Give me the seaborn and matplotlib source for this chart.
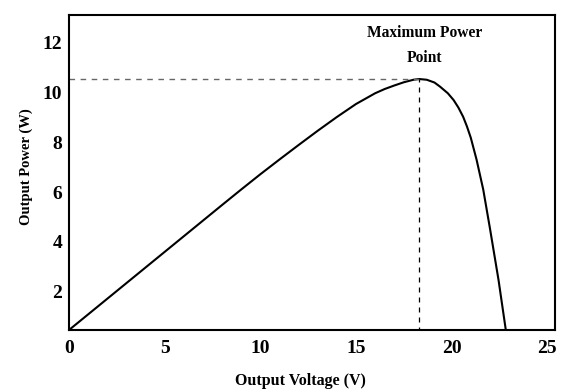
import matplotlib
matplotlib.use("Agg")
import matplotlib.pyplot as plt
import seaborn as sns
import pandas as pd

voltage = [0, 2, 4, 6, 8, 9, 10, 11, 12, 13, 14, 15, 16, 16.5, 17, 17.5, 18, 18.3,
           18.7, 19.1, 19.4, 19.8, 20.1, 20.35, 20.6, 20.8, 21.0, 21.3, 21.65,
           22.0, 22.45, 22.83]
power = [0.48, 1.73, 2.98, 4.23, 5.48, 6.1, 6.71, 7.3, 7.88, 8.45, 9.0, 9.52,
         9.95, 10.12, 10.26, 10.39, 10.49, 10.52, 10.49, 10.38, 10.21, 9.95, 9.68,
         9.38, 9.01, 8.62, 8.17, 7.3, 6.1, 4.55, 2.48, 0.48]
mpp_v = 18.3
mpp_p = 10.52
x_ticks = [0, 5, 10, 15, 20, 25]
y_ticks = [2, 4, 6, 8, 10, 12]

sns.set_theme(style="white")
plt.rcParams['font.family'] = ['Liberation Serif', 'DejaVu Serif']
plt.rcParams['font.weight'] = 'bold'
plt.rcParams['text.color'] = 'black'

df = pd.DataFrame({"v": voltage, "p": power})

fig = plt.figure(figsize=(5.62, 3.89), dpi=100)
ax = fig.add_axes([0.1228, 0.1517, 0.9875 - 0.1228, 0.9614 - 0.1517])

sns.lineplot(data=df, x="v", y="p", ax=ax, color="black", linewidth=1.5,
             estimator=None, sort=False)

ax.plot([0, mpp_v], [mpp_p, mpp_p], linestyle=(0, (4, 4)), color="#666666", linewidth=1.0)
ax.plot([mpp_v, mpp_v], [0, mpp_p], linestyle=(0, (4, 4)), color="black", linewidth=0.9)

ax.text(18.6, 11.85, "Maximum Power\nPoint", ha="center", va="center",
        fontsize=11.2, fontweight="bold", linespacing=1.75, color="black")

ax.set_xlim(0, 25.4)
ax.set_ylim(0.48, 13.08)
ax.set_xticks(x_ticks)
ax.set_yticks(y_ticks)
ax.set_xticklabels([str(t) for t in x_ticks])
ax.set_yticklabels([str(t) for t in y_ticks])
ax.tick_params(axis="both", length=0, labelsize=14, colors="black")
ax.tick_params(axis="x", pad=7)
ax.tick_params(axis="y", pad=5)
for lab in ax.get_xticklabels() + ax.get_yticklabels():
    lab.set_fontweight("bold")

ax.set_xlabel("Output Voltage (V)", fontsize=11.5, fontweight="bold", color="black")
ax.set_ylabel("Output Power (W)", fontsize=10.5, fontweight="bold", color="black")
ax.xaxis.label.set_va("center")
ax.yaxis.label.set_va("center")
ax.xaxis.set_label_coords(0.477, -0.162)
ax.yaxis.set_label_coords(-0.088, 0.52)

for s in ax.spines.values():
    s.set_visible(True)
    s.set_color("black")
    s.set_linewidth(1.5)
ax.grid(False)

fig.savefig("out.png", dpi=100)
